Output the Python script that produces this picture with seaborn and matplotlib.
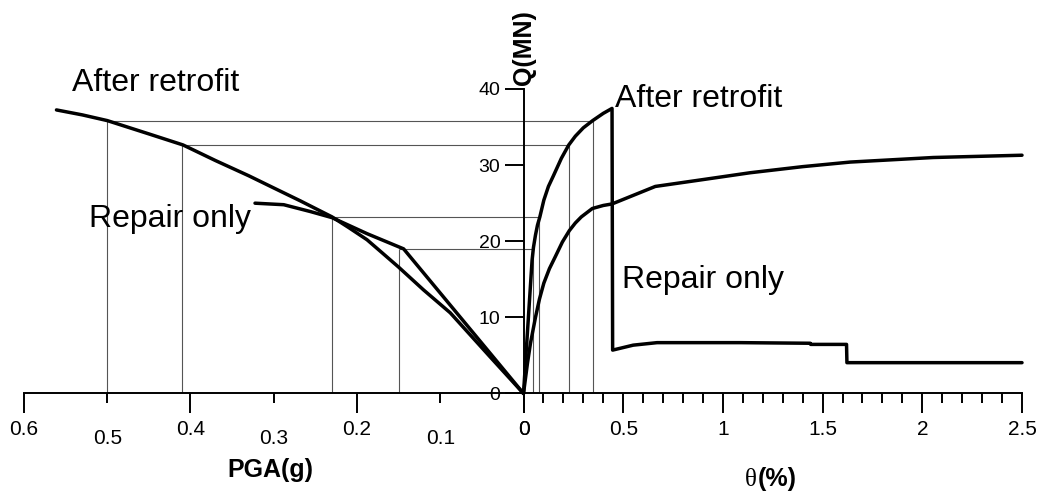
"""
Two-sided capacity chart: Q versus PGA on the left half and Q versus
drift ratio theta on the right half, with guide lines linking them.
"""

import matplotlib

matplotlib.use("Agg")
import matplotlib.pyplot as plt
import seaborn as sns
from matplotlib.ticker import MultipleLocator


# --- data ---
# left half: Q(MN) against PGA(g)
pga_retrofit = [0.561, 0.53, 0.5, 0.45, 0.409, 0.37, 0.33, 0.3, 0.268, 0.23,
                0.21, 0.188, 0.17, 0.15, 0.12, 0.088, 0.04, 0.0]
q_pga_retrofit = [37.25, 36.6, 35.85, 34.1, 32.65, 30.6, 28.6, 27.0, 25.3, 23.2,
                  21.8, 20.2, 18.5, 16.6, 13.6, 10.6, 4.8, 0.0]

pga_repair = [0.3225, 0.288, 0.256, 0.23, 0.188, 0.144, 0.0]
q_pga_repair = [25.0, 24.8, 23.9, 23.1, 21.0, 19.0, 0.0]

# right half: Q(MN) against theta(%)
theta_retrofit = [0.0, 0.043, 0.05, 0.06, 0.07, 0.082, 0.102, 0.125, 0.15, 0.19,
                  0.227, 0.26, 0.3, 0.347, 0.4, 0.444,
                  0.447, 0.55, 0.67, 1.087, 1.438, 1.44, 1.62, 1.622, 2.5]
q_theta_retrofit = [0.0, 17.5, 19.2, 20.8, 22.1, 23.2, 25.4, 27.2, 28.6, 30.9,
                    32.65, 33.8, 34.9, 35.85, 36.8, 37.45,
                    5.7, 6.35, 6.68, 6.68, 6.6, 6.45, 6.45, 4.05, 4.05]

theta_repair = [0.0, 0.02, 0.035, 0.06, 0.08, 0.102, 0.13, 0.16, 0.195, 0.23,
                0.26, 0.29, 0.345, 0.4, 0.444,
                0.661, 0.9, 1.137, 1.4, 1.638, 2.055, 2.5]
q_theta_repair = [0.0, 4.0, 6.6, 10.0, 12.4, 14.5, 16.4, 18.0, 19.9, 21.4,
                  22.4, 23.2, 24.3, 24.7, 24.9,
                  27.2, 28.1, 29.0, 29.8, 30.4, 31.0, 31.3]

# guide lines linking the two halves
guide_q = [35.85, 32.65, 23.2, 19.0]
guide_pga = [0.5, 0.41, 0.23, 0.15]
guide_theta = [0.347, 0.227, 0.08, 0.047]

# ticks
pga_major = [0.6, 0.4, 0.2, 0.0]
pga_major_labels = ["0.6", "0.4", "0.2", "0"]
pga_minor = [0.5, 0.3, 0.1]
pga_minor_labels = ["0.5", "0.3", "0.1"]
theta_ticks = [0.0, 0.5, 1.0, 1.5, 2.0, 2.5]
theta_labels = ["0", "0.5", "1", "1.5", "2", "2.5"]
q_ticks = [0, 10, 20, 30, 40]


sns.set_style("ticks")
plt.rcParams["font.family"] = ["Liberation Sans", "DejaVu Sans"]
plt.rcParams.update({
    "text.color": "black",
    "axes.labelcolor": "black",
    "axes.edgecolor": "black",
    "xtick.color": "black",
    "ytick.color": "black",
})

fig = plt.figure(figsize=(10.42, 4.93), dpi=100)
ax_l = fig.add_axes([0.02303, 0.20183, 0.47937, 0.61765])
ax_r = fig.add_axes([0.50240, 0.20183, 0.47841, 0.61765])

curve_kw = dict(color="black", linewidth=2.5, sort=False, estimator=None, zorder=3)
guide_kw = dict(color="#555555", linewidth=0.8, zorder=2)

# --- left half ---
sns.lineplot(x=pga_retrofit, y=q_pga_retrofit, ax=ax_l, **curve_kw)
sns.lineplot(x=pga_repair, y=q_pga_repair, ax=ax_l, **curve_kw)
ax_l.hlines(guide_q, guide_pga, 0, **guide_kw)
ax_l.vlines(guide_pga, 0, guide_q, **guide_kw)

ax_l.set_xlim(0.6, 0.0)
ax_l.set_ylim(0, 40)
for side in ["top", "right", "left"]:
    ax_l.spines[side].set_visible(False)
ax_l.spines["bottom"].set_linewidth(1.4)
ax_l.set_yticks([])
ax_l.set_xticks(pga_major)
ax_l.set_xticklabels(pga_major_labels)
ax_l.set_xticks(pga_minor, minor=True)
ax_l.set_xticklabels(pga_minor_labels, minor=True)
ax_l.tick_params(axis="x", which="major", direction="out", length=14.4, width=1.4,
                 pad=5, labelsize=15)
ax_l.tick_params(axis="x", which="minor", direction="out", length=7.2, width=1.4,
                 pad=18.5, labelsize=15)

# --- right half ---
sns.lineplot(x=theta_retrofit, y=q_theta_retrofit, ax=ax_r, **curve_kw)
sns.lineplot(x=theta_repair, y=q_theta_repair, ax=ax_r, **curve_kw)
ax_r.hlines(guide_q, 0, guide_theta, **guide_kw)
ax_r.vlines(guide_theta, 0, guide_q, **guide_kw)

ax_r.set_xlim(0.0, 2.5)
ax_r.set_ylim(0, 40)
for side in ["top", "right"]:
    ax_r.spines[side].set_visible(False)
ax_r.spines["bottom"].set_linewidth(1.4)
ax_r.spines["left"].set_linewidth(1.4)
ax_r.set_xticks(theta_ticks)
ax_r.set_xticklabels(theta_labels)
ax_r.xaxis.set_minor_locator(MultipleLocator(0.1))
ax_r.set_yticks(q_ticks)
ax_r.tick_params(axis="x", which="major", direction="out", length=14.4, width=1.4,
                 pad=5, labelsize=15)
ax_r.tick_params(axis="x", which="minor", direction="out", length=7.2, width=1.4)
ax_r.tick_params(axis="y", which="major", direction="out", length=13.7, width=1.4,
                 pad=3, labelsize=14)

for line in ax_l.lines + ax_r.lines:
    line.set_clip_on(False)

# --- curve labels ---
ax_l.text(0.542, 39.78, "After retrofit", fontsize=23, ha="left", va="baseline")
ax_l.text(0.522, 21.9, "Repair only", fontsize=23, ha="left", va="baseline")
ax_r.text(0.459, 37.67, "After retrofit", fontsize=23, ha="left", va="baseline")
ax_r.text(0.492, 13.82, "Repair only", fontsize=23, ha="left", va="baseline")

# --- axis titles ---
ax_l.text(0.493, -0.2755, "PGA(g)", transform=ax_l.transAxes, fontsize=18,
          fontweight="bold", ha="center", va="baseline")
ax_r.text(0.468, -0.304, "θ", transform=ax_r.transAxes, fontsize=18,
          family="Liberation Serif", ha="right", va="baseline")
ax_r.text(0.470, -0.304, "(%)", transform=ax_r.transAxes, fontsize=18,
          fontweight="bold", ha="left", va="baseline")
ax_r.annotate("Q(MN)", xy=(0, 1), xycoords="axes fraction", xytext=(0, 3),
              textcoords="offset points", rotation=90, fontsize=18,
              fontweight="bold", ha="center", va="bottom")

fig.savefig("out.png", dpi=100)
plt.close(fig)
